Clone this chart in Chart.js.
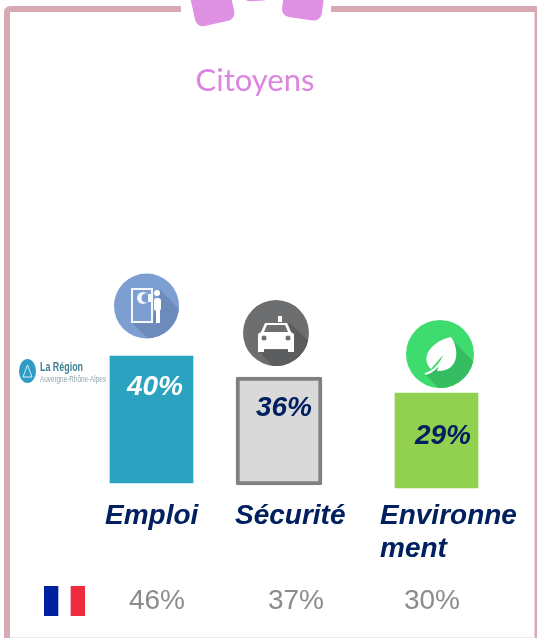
<!DOCTYPE html>
<html lang="fr">
<head>
<meta charset="utf-8">
<title>Citoyens</title>
<script src="https://cdn.jsdelivr.net/npm/chart.js@4/dist/chart.umd.min.js"></script>
<style>
    html, body { margin: 0; padding: 0; background: #fff; overflow: hidden; }
    #chart { display: block; }
</style>
</head>
<body>
<canvas id="chart" width="537" height="638"></canvas>
<script>
// Values
const categories = ['Emploi', 'Sécurité', 'Environnement'];
const regionValues = [40, 36, 29];
const franceValues = [46, 37, 30];

// The infographic places each bar by hand, so every bar gets its own layout
const layout = [
    { centre: 151.5, width: 83, top: 356, base: 483, fill: '#2CA2C1', border: 0, valueX: 155, valueY: 395, valueColor: '#FFFFFF', nameX: 105, nameLines: ['Emploi'], franceX: 157 },
    { centre: 279, width: 86, top: 377, base: 485, fill: '#D9D9D9', border: 4, valueX: 284, valueY: 416, valueColor: '#002060', nameX: 235, nameLines: ['Sécurité'], franceX: 296 },
    { centre: 436.5, width: 83, top: 393, base: 488, fill: '#92D050', border: 0, valueX: 443, valueY: 444, valueColor: '#002060', nameX: 380, nameLines: ['Environne', 'ment'], franceX: 432 }
];
const HEIGHT = 638;

// Category scale whose columns sit where the layout says, not evenly spaced
class PlacedCategoryScale extends Chart.CategoryScale {
    getPixelForValue(value) {
        return layout[value].centre;
    }
}
PlacedCategoryScale.id = 'placedCategory';
PlacedCategoryScale.defaults = Chart.CategoryScale.defaults;
Chart.register(PlacedCategoryScale);

// y range that puts 0 on the bar's base and the value on the bar's top
function yRange(value, bar) {
    const unit = (bar.base - bar.top) / value;
    return { min: -(HEIGHT - bar.base) / unit, max: value + bar.top / unit };
}

const yScales = {};
regionValues.forEach((v, i) => {
    yScales['y' + i] = { type: 'linear', display: false, ...yRange(v, layout[i]) };
});

function longShadow(ctx, cx, cy, r, points, color) {
    ctx.save();
    ctx.beginPath();
    ctx.arc(cx, cy, r, 0, Math.PI * 2);
    ctx.clip();
    ctx.fillStyle = color;
    ctx.beginPath();
    points.forEach((p, i) => i ? ctx.lineTo(p[0], p[1]) : ctx.moveTo(p[0], p[1]));
    ctx.closePath();
    ctx.fill();
    ctx.restore();
}

function disc(ctx, cx, cy, r, color) {
    ctx.fillStyle = color;
    ctx.beginPath();
    ctx.arc(cx, cy, r, 0, Math.PI * 2);
    ctx.fill();
}

function drawFrame(ctx) {
    ctx.strokeStyle = '#D9A9B3';
    ctx.lineWidth = 6;
    ctx.beginPath();
    ctx.moveTo(181, 9);
    ctx.lineTo(10, 9);
    ctx.arcTo(7, 9, 7, 12, 3);
    ctx.lineTo(7, 638);
    ctx.stroke();
    ctx.beginPath();
    ctx.moveTo(331, 9);
    ctx.lineTo(537, 9);
    ctx.stroke();
    ctx.lineWidth = 3;
    ctx.beginPath();
    ctx.moveTo(536, 9);
    ctx.lineTo(536, 638);
    ctx.stroke();
    ctx.fillStyle = '#EEEAEC';
    ctx.fillRect(10, 637, 525, 1);

    // Petals of the logo cut by the top edge
    ctx.fillStyle = '#DE90E2';
    petal(ctx, 211, -1, 40, 50, -0.22);
    petal(ctx, 304, -4, 40, 46, 0.14);
    petal(ctx, 256, -11, 28, 24, -0.06);
}

function petal(ctx, cx, cy, w, h, angle) {
    ctx.save();
    ctx.translate(cx, cy);
    ctx.rotate(angle);
    ctx.beginPath();
    ctx.roundRect(-w / 2, -h / 2, w, h, 8);
    ctx.fill();
    ctx.restore();
}

function drawDoorIcon(ctx) {
    disc(ctx, 146.5, 306, 32.5, '#7C9ED1');
    longShadow(ctx, 146.5, 306, 32.5, [[160, 290], [185, 315], [155, 345], [131, 322], [152, 322]], '#6C8BBB');
    ctx.strokeStyle = '#F4F7FB';
    ctx.lineWidth = 2;
    ctx.strokeRect(132, 289, 20, 33);
    disc(ctx, 143, 298, 6, '#F4F7FB');
    disc(ctx, 146, 298, 4.5, '#7C9ED1');
    ctx.fillStyle = '#F4F7FB';
    ctx.fillRect(148, 294, 3, 8);
    disc(ctx, 157, 293, 3, '#FFFFFF');
    ctx.beginPath();
    ctx.roundRect(154, 298, 7, 13, 3);
    ctx.fill();
    ctx.fillRect(156, 308, 4, 15);
}

function drawTaxiIcon(ctx) {
    disc(ctx, 276, 333, 33, '#6D6E70');
    longShadow(ctx, 276, 333, 33, [[289, 322], [320, 352], [285, 380], [258, 350], [294, 350]], '#5C5D5F');
    ctx.fillStyle = '#FFFFFF';
    ctx.fillRect(278, 316, 4, 6);
    ctx.beginPath();
    ctx.moveTo(265, 323);
    ctx.lineTo(287, 323);
    ctx.lineTo(291, 332);
    ctx.lineTo(294, 334);
    ctx.lineTo(294, 352);
    ctx.lineTo(288, 352);
    ctx.lineTo(288, 349);
    ctx.lineTo(264, 349);
    ctx.lineTo(264, 352);
    ctx.lineTo(258, 352);
    ctx.lineTo(258, 334);
    ctx.lineTo(261, 332);
    ctx.closePath();
    ctx.fill();
    ctx.fillStyle = '#6D6E70';
    ctx.beginPath();
    ctx.moveTo(267, 325);
    ctx.lineTo(285, 325);
    ctx.lineTo(288, 332);
    ctx.lineTo(264, 332);
    ctx.closePath();
    ctx.fill();
    disc(ctx, 264, 338, 2.5, '#6D6E70');
    disc(ctx, 288, 338, 2.5, '#6D6E70');
}

function drawLeafIcon(ctx) {
    disc(ctx, 440, 354, 34, '#3EDB6F');
    longShadow(ctx, 440, 354, 34, [[452, 340], [490, 378], [450, 400], [425, 374], [440, 366]], '#36BD62');
    ctx.fillStyle = '#FFFFFF';
    ctx.beginPath();
    ctx.moveTo(451, 337);
    ctx.bezierCurveTo(460, 350, 459, 372, 437, 371);
    ctx.lineTo(443, 355);
    ctx.lineTo(431, 369);
    ctx.bezierCurveTo(420, 358, 430, 342, 451, 337);
    ctx.closePath();
    ctx.fill();
    ctx.strokeStyle = '#FFFFFF';
    ctx.lineWidth = 2;
    ctx.beginPath();
    ctx.moveTo(425, 374);
    ctx.quadraticCurveTo(438, 371, 446, 352);
    ctx.stroke();
}

function drawRegionLogo(ctx) {
    ctx.fillStyle = '#2E9CC6';
    ctx.beginPath();
    ctx.ellipse(27.5, 371, 8.5, 12, 0, 0, Math.PI * 2);
    ctx.fill();
    ctx.strokeStyle = '#D8EEF6';
    ctx.lineWidth = 1;
    ctx.beginPath();
    ctx.moveTo(23, 377);
    ctx.lineTo(27.5, 365);
    ctx.lineTo(32, 377);
    ctx.closePath();
    ctx.stroke();
    ctx.textAlign = 'left';
    ctx.fillStyle = '#3F7F95';
    ctx.font = 'bold 13px "Liberation Sans Narrow", "Liberation Sans", sans-serif';
    ctx.fillText('La Région', 40, 371, 43);
    ctx.fillStyle = '#8FA3AC';
    ctx.font = '9px "Liberation Sans Narrow", "Liberation Sans", sans-serif';
    ctx.fillText('Auvergne-Rhône-Alpes', 40, 382, 66);
}

function drawFlag(ctx) {
    ctx.fillStyle = '#00209F';
    ctx.fillRect(44, 586, 14, 30);
    ctx.fillStyle = '#AEB9E0';
    ctx.fillRect(58, 586, 1, 30);
    ctx.fillStyle = '#F7B9BF';
    ctx.fillRect(70, 586, 1, 30);
    ctx.fillStyle = '#EF2B3D';
    ctx.fillRect(71, 586, 14, 30);
}

const decorations = {
    id: 'decorations',
    beforeDatasetsDraw(chart) {
        const ctx = chart.ctx;
        ctx.save();
        drawFrame(ctx);
        drawDoorIcon(ctx);
        drawTaxiIcon(ctx);
        drawLeafIcon(ctx);
        drawRegionLogo(ctx);
        drawFlag(ctx);
        ctx.restore();
    }
};

const textLabels = {
    id: 'textLabels',
    afterDatasetsDraw(chart) {
        const ctx = chart.ctx;
        ctx.save();
        ctx.textBaseline = 'alphabetic';

        ctx.textAlign = 'center';
        ctx.fillStyle = '#DC84E2';
        ctx.font = '400 31px Lato, sans-serif';
        ctx.fillText('Citoyens', 255, 91, 122);

        layout.forEach((bar, i) => {
            ctx.font = 'italic bold 28px "Liberation Sans", sans-serif';
            ctx.textAlign = 'center';
            ctx.fillStyle = bar.valueColor;
            ctx.fillText(regionValues[i] + '%', bar.valueX, bar.valueY);

            ctx.textAlign = 'left';
            ctx.fillStyle = '#002060';
            bar.nameLines.forEach((line, n) => ctx.fillText(line, bar.nameX, 524 + n * 33));

            ctx.font = '28px "Liberation Sans", sans-serif';
            ctx.textAlign = 'center';
            ctx.fillStyle = '#8C8C8C';
            ctx.fillText(franceValues[i] + '%', bar.franceX, 609);
        });
        ctx.restore();
    }
};

new Chart(document.getElementById('chart'), {
    type: 'bar',
    data: {
        labels: categories,
        datasets: regionValues.map((v, i) => ({
            label: categories[i],
            data: categories.map((c, j) => (j === i ? v : null)),
            yAxisID: 'y' + i,
            grouped: false,
            barThickness: layout[i].width,
            backgroundColor: layout[i].fill,
            borderColor: '#808080',
            borderWidth: layout[i].border,
            borderSkipped: false,
            borderRadius: layout[i].border ? 2 : 0
        }))
    },
    options: {
        responsive: false,
        animation: false,
        layout: { padding: 0 },
        scales: {
            x: { type: 'placedCategory', display: false },
            ...yScales
        },
        plugins: {
            legend: { display: false },
            tooltip: { enabled: false }
        }
    },
    plugins: [decorations, textLabels]
});
</script>
</body>
</html>
